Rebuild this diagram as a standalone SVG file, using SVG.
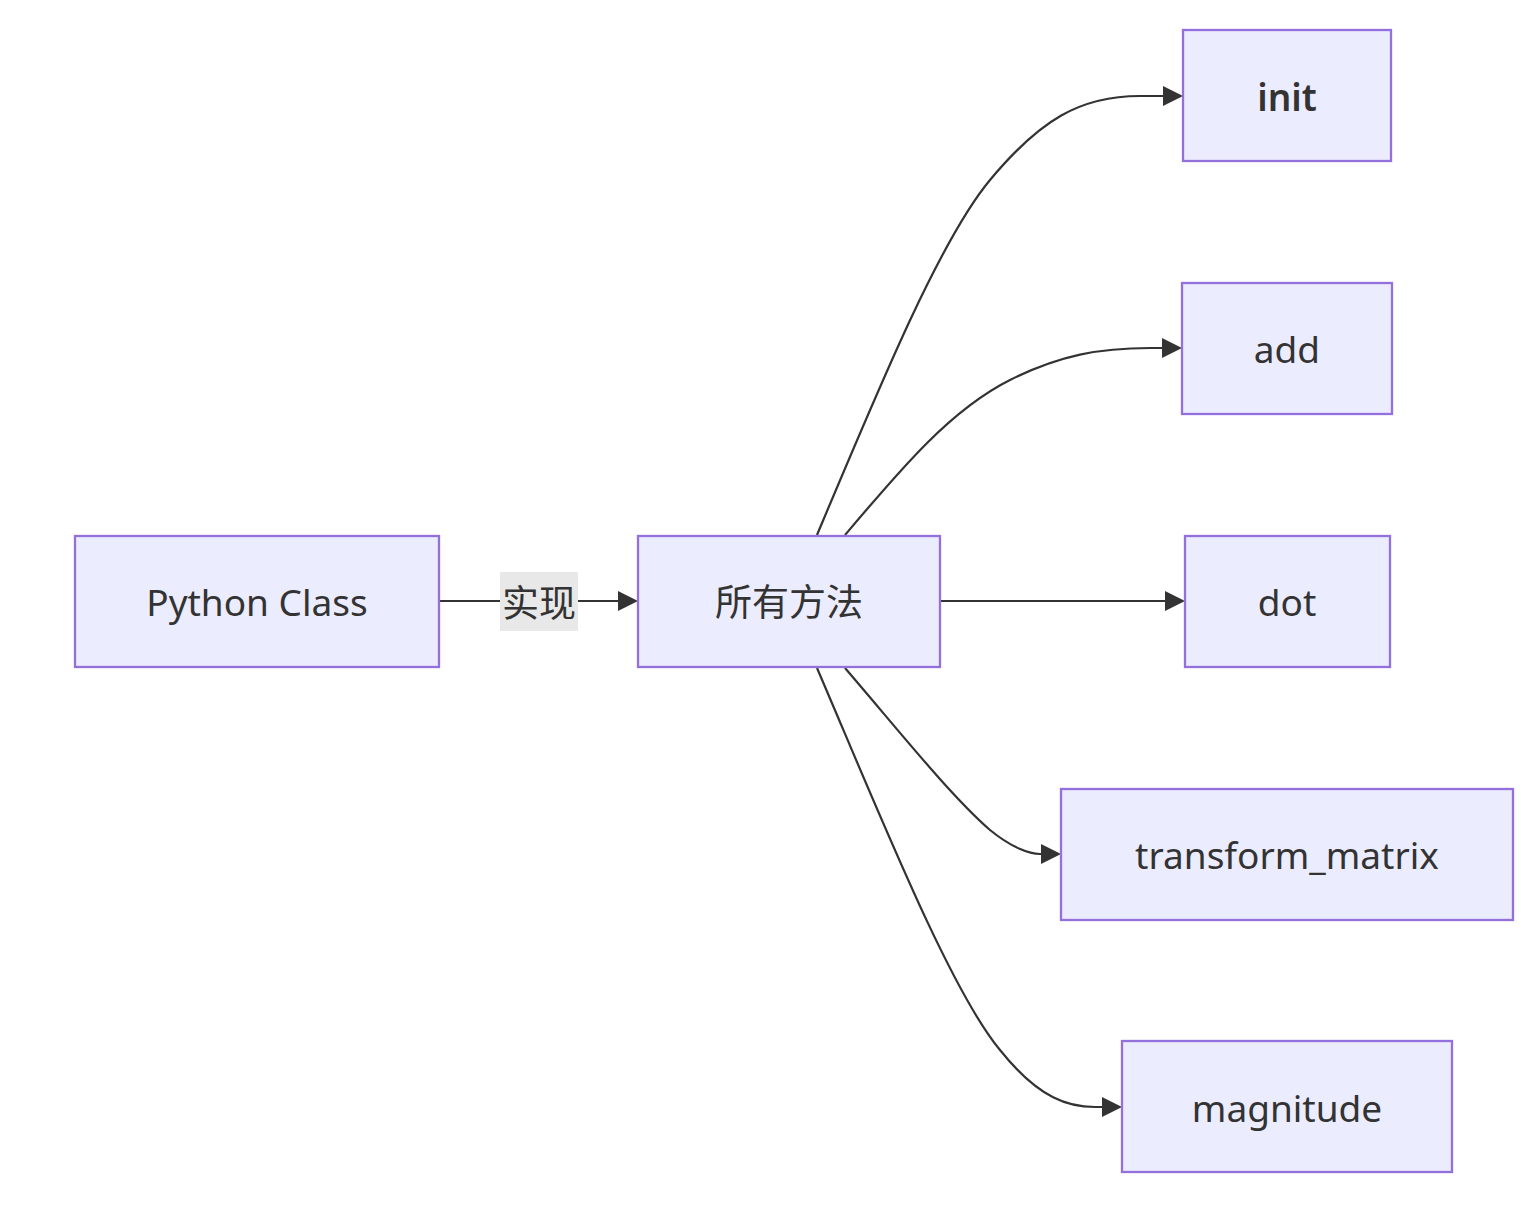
<svg xmlns="http://www.w3.org/2000/svg" width="1531" height="1210" viewBox="0 0 1531 1210">
<defs>
<style>
.node rect{fill:#ECECFF;stroke:#9370DB;stroke-width:2.3}
.node text{font-family:"Noto Sans","Noto Sans CJK SC",sans-serif;font-size:37px;fill:#333;text-anchor:middle;dominant-baseline:central}
.edge{fill:none;stroke:#333;stroke-width:2.2}
.lbl{font-family:"Noto Sans CJK SC","Noto Sans",sans-serif;font-size:37px;fill:#333;text-anchor:middle;dominant-baseline:central}
</style>
<marker id="arr" viewBox="0 0 10 10" refX="9" refY="5" markerUnits="userSpaceOnUse" markerWidth="20" markerHeight="20" orient="auto">
<path d="M0,0 L10,5 L0,10 z" fill="#333"/>
</marker>
</defs>
<rect width="1531" height="1210" fill="#fff"/>
<g id="edges">
<path class="edge" d="M440,601 L636,601" marker-end="url(#arr)"/>
<path class="edge" d="M817,535 C880,385 940,240 990,180 C1040,120 1080,96 1140,96 L1181,96" marker-end="url(#arr)"/>
<path class="edge" d="M845,535 C900,470 950,410 1010,380 C1060,355 1100,348 1150,348 L1180,348" marker-end="url(#arr)"/>
<path class="edge" d="M941,601 L1183,601" marker-end="url(#arr)"/>
<path class="edge" d="M845,668 C900,732 950,795 990,830 C1012,848 1030,854 1040,854 L1059,854" marker-end="url(#arr)"/>
<path class="edge" d="M817,668 C880,815 950,990 1000,1050 C1040,1100 1070,1107 1095,1107 L1120,1107" marker-end="url(#arr)"/>
<g id="edge-label">
<rect x="500" y="572" width="78" height="59" fill="#e8e8e8"/>
<text class="lbl" x="539" y="601">实现</text>
</g>
</g>
<g id="python-class" class="node"><rect x="75" y="536" width="364" height="131"/><text x="257" y="601">Python Class</text></g>
<g id="all-methods" class="node"><rect x="638" y="536" width="302" height="131"/><text x="789" y="601">所有方法</text></g>
<g id="init" class="node"><rect x="1183" y="30" width="208" height="131"/><text x="1287" y="96" font-weight="600">init</text></g>
<g id="add" class="node"><rect x="1182" y="283" width="210" height="131"/><text x="1287" y="348">add</text></g>
<g id="dot" class="node"><rect x="1185" y="536" width="205" height="131"/><text x="1287" y="601">dot</text></g>
<g id="transform-matrix" class="node"><rect x="1061" y="789" width="452" height="131"/><text x="1287" y="854">transform_matrix</text></g>
<g id="magnitude" class="node"><rect x="1122" y="1041" width="330" height="131"/><text x="1287" y="1107">magnitude</text></g>
</svg>
